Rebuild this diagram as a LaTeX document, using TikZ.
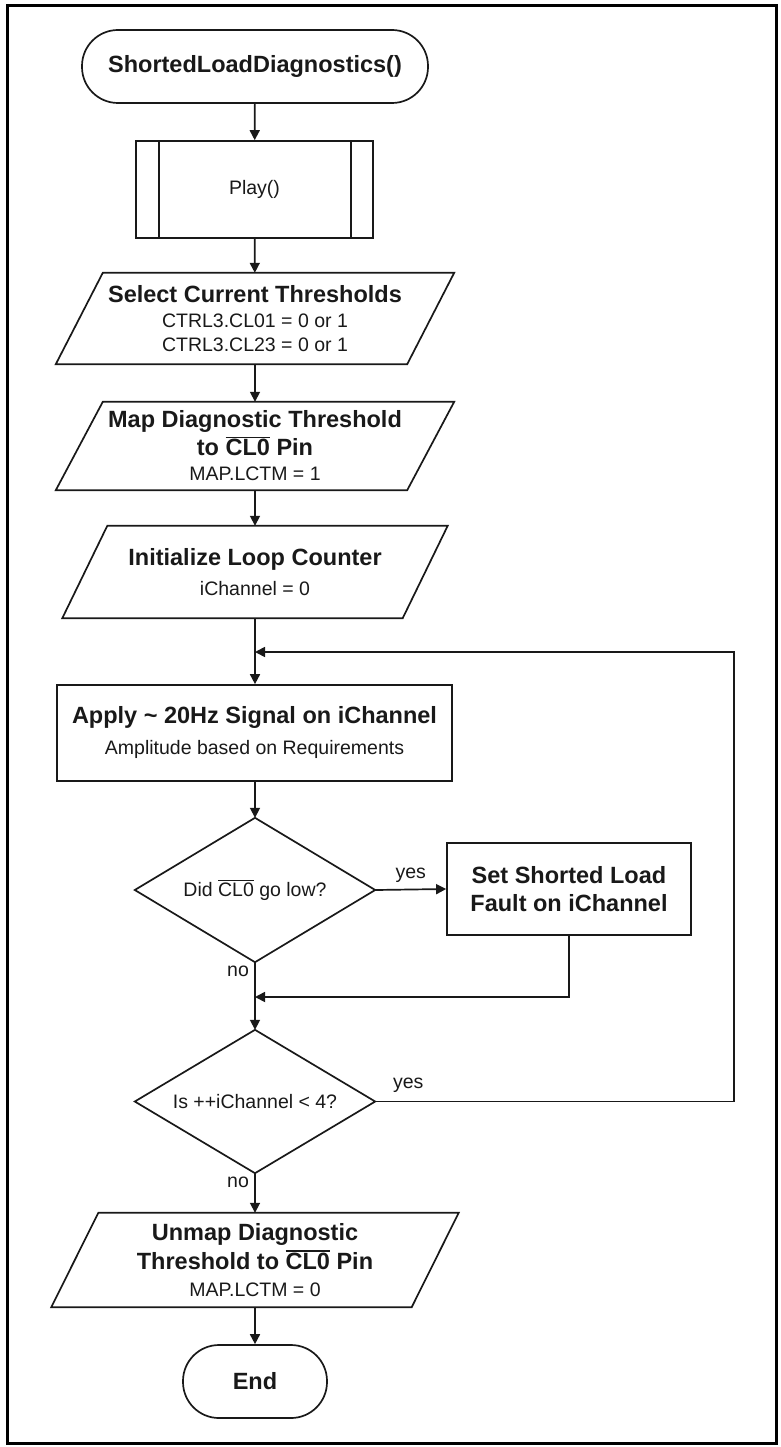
\documentclass[tikz,border=0pt]{standalone}
\usepackage{fontspec}
\setmainfont{Liberation Sans}
\usetikzlibrary{arrows.meta,calc}

% overline drawn as a rule above the text
\newcommand\ovl[1]{\leavevmode\vbox{\hrule height 1.3pt\kern1.4pt\hbox{#1}}}
\newcommand\hd{\fontsize{23.5}{28}\selectfont\bfseries}

\tikzset{
  line/.style={draw=black!90, line width=1.7pt},
  arrow/.style={line, -{Triangle[length=10pt,width=10pt]}},
  box/.style={line, rectangle, inner sep=0pt, align=center,
              font=\fontsize{19.5}{25}\selectfont, text=black!90},
  iobox/.style={rectangle, inner sep=0pt, align=center,
              font=\fontsize{19.5}{25}\selectfont, text=black!90},
  terminal/.style={box, rounded corners=36pt, minimum height=73pt},
  decision/.style={rectangle, inner sep=0pt, align=center,
              font=\fontsize{19.5}{25}\selectfont, text=black!90,
              minimum width=240pt, minimum height=144pt},
  lbl/.style={font=\fontsize{19.5}{24}\selectfont, text=black!90, inner sep=0pt},
}

% parallelogram drawn around a rectangular text node
\newcommand\drawpara[2]{%
  \draw[line] ([xshift=#2]#1.north west) -- ([xshift=#2]#1.north east)
    -- ([xshift=-#2]#1.south east) -- ([xshift=-#2]#1.south west) -- cycle;}
% diamond drawn through the side midpoints of a text node
\newcommand\drawdiamond[1]{%
  \draw[line, line join=miter] (#1.north) -- (#1.east) -- (#1.south) -- (#1.west) -- cycle;}

\begin{document}
\begin{tikzpicture}[x=1pt, y=-1pt]
  \useasboundingbox (0,0) rectangle (780,1447);
  % outer frame
  \draw[line width=2.5pt, black] (7.5,5.5) rectangle (776.5,1443.5);

  % start terminal
  \node[terminal, minimum width=346pt] (start) at (255,66.5)
    {\hd ShortedLoadDiagnostics()};

  % predefined process
  \node[box, minimum width=237pt, minimum height=97pt] (play) at (254.5,189.5) {Play()};
  \draw[line] ([xshift=24pt]play.north west) -- ([xshift=24pt]play.south west);
  \draw[line] ([xshift=-23pt]play.north east) -- ([xshift=-23pt]play.south east);

  % input/output steps
  \node[iobox, minimum width=351pt, minimum height=91pt] (sel) at (255,318.5)
    {{\hd Select Current Thresholds}\\CTRL3.CL01 = 0 or 1\\[-1pt]CTRL3.CL23 = 0 or 1};
  \drawpara{sel}{23.5pt}

  \node[iobox, minimum width=351pt, minimum height=88pt] (map) at (255,446)
    {{\hd Map Diagnostic Threshold}\\[3pt]{\hd to \ovl{CL0} Pin}\\MAP.LCTM = 1};
  \drawpara{map}{23.5pt}

  \node[iobox, minimum width=340pt, minimum height=92pt] (init) at (255,572)
    {{\hd Initialize Loop Counter}\\[5pt]iChannel = 0};
  \drawpara{init}{22.5pt}

  % loop body
  \coordinate (j1) at (255,652);
  \node[box, minimum width=395pt, minimum height=96pt] (apply) at (254.5,733)
    {{\hd Apply \char`\~\ 20Hz Signal on iChannel}\\[6pt]Amplitude based on Requirements};

  \node[decision] (d1) at (255,890) {Did \ovl{CL0} go low?};
  \drawdiamond{d1}
  \node[box, minimum width=244pt, minimum height=92pt] (set) at (569,889)
    {{\hd Set Shorted Load}\\[3pt]{\hd Fault on iChannel}};
  \coordinate (j2) at (255,997);

  \node[decision, minimum height=143pt] (d2) at (255,1101.5) {Is ++iChannel < 4?};
  \drawdiamond{d2}
  \coordinate (loop) at (734,652);

  \node[iobox, minimum width=360pt, minimum height=94pt] (unmap) at (255,1260)
    {{\hd Unmap Diagnostic}\\[4pt]{\hd Threshold to \ovl{CL0} Pin}\\[2pt]MAP.LCTM = 0};
  \drawpara{unmap}{23.5pt}

  \node[terminal, minimum width=144pt] (end) at (255,1381.5) {\hd End};

  % connectors
  \draw[arrow] (start) -- (play);
  \draw[arrow] (play) -- (sel);
  \draw[arrow] (sel) -- (map);
  \draw[arrow] (map) -- (init);
  \draw[arrow] (init.south) -- (init.south |- apply.north);
  \draw[arrow] (apply.south -| d1.north) -- (d1.north);
  \draw[arrow] (d1.east) -- node[lbl, above=6pt] {yes} (set.west);
  \draw[arrow] (d1.south) -- (d2.north);
  \draw[arrow] (set.south) |- (j2);
  \draw[arrow] (d2.east) -| (loop) -- (j1);
  \draw[arrow] (d2.south) -- (unmap.north -| d2.south);
  \draw[arrow] (unmap) -- (end);

  % branch labels
  \node[lbl] at ([xshift=-17pt,yshift=-9pt]d1.south) {no};
  \node[lbl] at ([xshift=-17pt,yshift=-9pt]d2.south) {no};
  \node[lbl] at ([xshift=33pt,yshift=16pt]d2.east) {yes};
\end{tikzpicture}
\end{document}
